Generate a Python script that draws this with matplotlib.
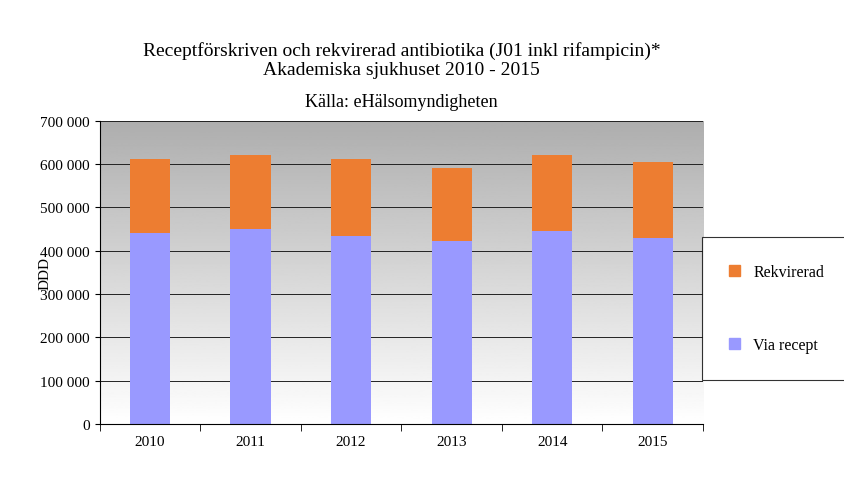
import numpy as np
import matplotlib.pyplot as plt
from matplotlib.patches import Patch
from matplotlib.ticker import FuncFormatter

years = ["2010", "2011", "2012", "2013", "2014", "2015"]
via_recept = [440000, 450000, 435000, 423000, 446000, 430000]
rekvirerad = [172000, 172000, 177000, 167000, 174000, 175000]

plt.rcParams["font.family"] = "Liberation Serif"

fig = plt.figure(figsize=(8.45, 4.89), dpi=100)
ax = fig.add_axes([0.118, 0.131, 0.714, 0.620])

x = np.arange(len(years))
ax.imshow(np.linspace(0.68, 1.0, 256).reshape(-1, 1), cmap="gray", vmin=0, vmax=1,
          aspect="auto", extent=[-0.5, len(years) - 0.5, 0, 700000], zorder=0)
ax.bar(x, via_recept, width=0.4, color="#9999FF", zorder=2)
ax.bar(x, rekvirerad, width=0.4, bottom=via_recept, color="#ED7D31", zorder=2)

ax.set_xlim(-0.5, len(years) - 0.5)
ax.set_ylim(0, 700000)
ax.set_yticks(range(0, 700001, 100000))
ax.yaxis.set_major_formatter(FuncFormatter(lambda v, p: f"{int(v):,}".replace(",", " ")))
ax.grid(axis="y", color="#222222", linewidth=0.7, zorder=1)
ax.set_xticks(x)
ax.set_xticklabels(years, fontsize=11)
ax.set_xticks(np.arange(-0.5, len(years)), minor=True)
ax.tick_params(axis="x", which="major", length=0, pad=8)
ax.tick_params(axis="x", which="minor", length=5)
ax.tick_params(axis="y", labelsize=11)
for s in ["top", "right"]:
    ax.spines[s].set_visible(False)
ax.set_ylabel("DDD", fontsize=11, labelpad=-8)

fig.text(0.475, 0.877, "Receptförskriven och rekvirerad antibiotika (J01 inkl rifampicin)*\n"
         "Akademiska sjukhuset 2010 - 2015", ha="center", va="center", fontsize=14,
         linespacing=1.15)
fig.text(0.475, 0.79, "Källa: eHälsomyndigheten", ha="center", va="center", fontsize=13)

handles = [Patch(color="#ED7D31"), Patch(color="#9999FF")]
leg = fig.legend(handles, ["Rekvirerad", "Via recept"], loc="center",
                 bbox_to_anchor=(0.919, 0.367), frameon=True, fancybox=False,
                 edgecolor="black", fontsize=11.5, labelspacing=3.6,
                 borderpad=1.7, handlelength=0.7, handleheight=0.7,
                 handletextpad=0.8, borderaxespad=0)
leg.get_frame().set_linewidth(0.8)

fig.savefig("out.png", dpi=100)
